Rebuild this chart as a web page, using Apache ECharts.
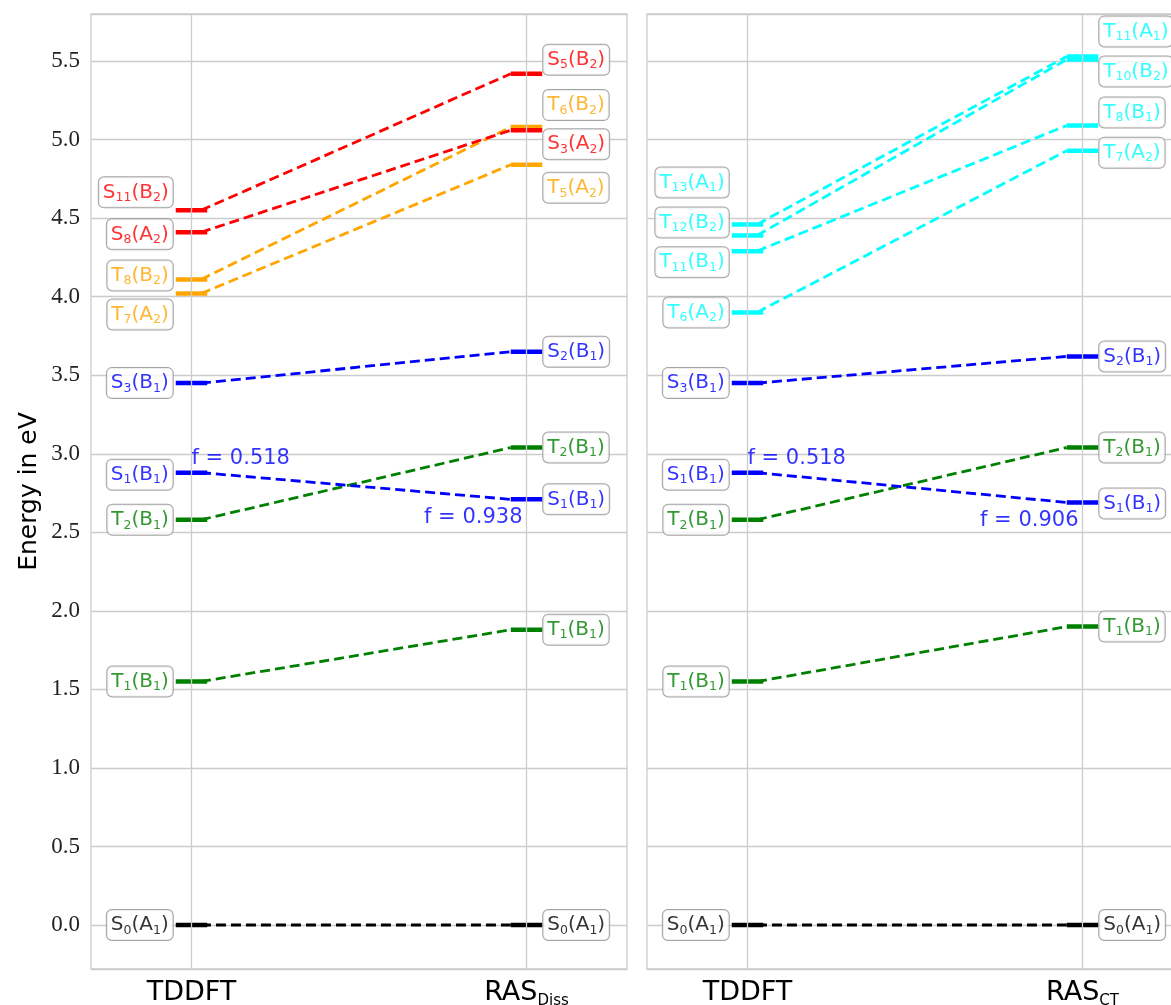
<!DOCTYPE html>
<html><head><meta charset="utf-8">
<script src="https://cdn.jsdelivr.net/npm/echarts@6/dist/echarts.min.js"></script>
<style>html,body{margin:0;padding:0;background:#fff;overflow:hidden}#c{width:1171px;height:1005px}</style>
</head><body><div id="c"></div>
<script>
// ---------------- DATA ----------------
const methodsLeft = ['TDDFT', 'RAS_Diss'];
const methodsRight = ['TDDFT', 'RAS_CT'];

// Left panel (TDDFT -> RAS_Diss)
const leftGroup       = ['ground', 'tripletB1', 'tripletB1', 'singletB1', 'singletB1', 'tripletHigh', 'tripletHigh', 'singletHigh', 'singletHigh'];
const leftTddftState  = ['S0(A1)', 'T1(B1)', 'T2(B1)', 'S1(B1)', 'S3(B1)', 'T7(A2)', 'T8(B2)', 'S8(A2)', 'S11(B2)'];
const leftTddftEnergy = [0.00, 1.55, 2.58, 2.88, 3.45, 4.02, 4.11, 4.41, 4.55];
const leftRasState    = ['S0(A1)', 'T1(B1)', 'T2(B1)', 'S1(B1)', 'S2(B1)', 'T5(A2)', 'T6(B2)', 'S3(A2)', 'S5(B2)'];
const leftRasEnergy   = [0.00, 1.88, 3.04, 2.71, 3.65, 4.84, 5.08, 5.06, 5.42];
const leftOscState    = 'S1(B1)';
const leftOscTddft    = '0.518';
const leftOscRas      = '0.938';

// Right panel (TDDFT -> RAS_CT)
const rightGroup       = ['ground', 'tripletB1', 'tripletB1', 'singletB1', 'singletB1', 'tripletCT', 'tripletCT', 'tripletCT', 'tripletCT'];
const rightTddftState  = ['S0(A1)', 'T1(B1)', 'T2(B1)', 'S1(B1)', 'S3(B1)', 'T6(A2)', 'T11(B1)', 'T12(B2)', 'T13(A1)'];
const rightTddftEnergy = [0.00, 1.55, 2.58, 2.88, 3.45, 3.90, 4.29, 4.39, 4.46];
const rightRasState    = ['S0(A1)', 'T1(B1)', 'T2(B1)', 'S1(B1)', 'S2(B1)', 'T7(A2)', 'T8(B1)', 'T10(B2)', 'T11(A1)'];
const rightRasEnergy   = [0.00, 1.90, 3.04, 2.69, 3.62, 4.93, 5.09, 5.51, 5.53];
const rightOscState    = 'S1(B1)';
const rightOscTddft    = '0.518';
const rightOscRas      = '0.906';

const yAxisName = 'Energy in eV';

// ---------------- STYLE / LAYOUT ----------------
const groupColor = {
  ground: '#000000', tripletB1: '#008000', singletB1: '#0000ff',
  tripletHigh: '#ffa500', singletHigh: '#ff0000', tripletCT: '#00ffff'
};
// label vertical nudges in pixels (to avoid overlapping boxes)
const nudgeLeftTddft  = {'S1(B1)': 2, 'T7(A2)': 21, 'T8(B2)': -4, 'S8(A2)': 2, 'S11(B2)': -18};
const nudgeLeftRas    = {'S5(B2)': -14, 'T6(B2)': -22, 'S3(A2)': 14, 'T5(A2)': 23};
const nudgeRightTddft = {'S1(B1)': 2, 'T13(A1)': -42, 'T12(B2)': -13, 'T11(B1)': 11};
const nudgeRightRas   = {'T11(A1)': -25, 'T10(B2)': 12, 'T8(B1)': -13, 'T7(A2)': 2, 'S1(B1)': 1};
const HW = 0.047; // half width of level bar in axis units
const SANS = 'DejaVu Sans';

function richName(name) {
  const m = name.match(/^([A-Z])(\d+)\(([A-Z])(\d+)\)$/);
  return `{m|${m[1]}}{s|${m[2]}}{m|(${m[3]}}{s|${m[4]}}{m|)}`;
}
function makeRich(color) {
  return {
    m: {color: color, fontFamily: SANS, fontSize: 20, lineHeight: 24},
    s: {color: color, fontFamily: SANS, fontSize: 12.5, lineHeight: 15, verticalAlign: 'bottom'}
  };
}
function stateLabel(name, color, side, nudge) {
  return {
    show: true,
    position: side,
    distance: side === 'left' ? 3 : 1,
    offset: [0, nudge || 0],
    formatter: richName(name),
    rich: makeRich(color),
    backgroundColor: '#ffffff',
    borderColor: '#8c8c8c',
    borderWidth: 1,
    borderRadius: 5,
    padding: [3, 4, 3, 4]
  };
}

function buildPanel(gi, group, tState, tE, rState, rE, nT, nR, oscState, oscT, oscR) {
  const series = [];
  // vertical grid lines at the two methods
  series.push({
    type: 'line', xAxisIndex: gi, yAxisIndex: gi, z: 0, silent: true, symbol: 'none',
    data: [[0, 0], [1, 0]], lineStyle: {opacity: 0},
    markLine: {
      silent: true, symbol: ['none', 'none'], label: {show: false},
      lineStyle: {color: '#cccccc', width: 1.3, type: 'solid'},
      data: [{xAxis: 0}, {xAxis: 1}], animation: false
    }
  });
  const labelData = [];
  for (let i = 0; i < tE.length; i++) {
    const c = groupColor[group[i]];
    series.push({
      type: 'line', xAxisIndex: gi, yAxisIndex: gi, z: 2, symbol: 'none', silent: true,
      data: [[HW * 0.6, tE[i]], [1 - HW, rE[i]]],
      lineStyle: {color: c, width: 2.8, type: [10, 5]}
    });
    series.push({
      type: 'line', xAxisIndex: gi, yAxisIndex: gi, z: 3, symbol: 'none', silent: true,
      data: [[-HW, tE[i]], [HW, tE[i]]],
      lineStyle: {color: c, width: 4.5, cap: 'butt'}
    });
    series.push({
      type: 'line', xAxisIndex: gi, yAxisIndex: gi, z: 3, symbol: 'none', silent: true,
      data: [[1 - HW, rE[i]], [1 + HW, rE[i]]],
      lineStyle: {color: c, width: 4.5, cap: 'butt'}
    });
    labelData.push({value: [-HW, tE[i]], label: stateLabel(tState[i], c, 'left', nT[tState[i]])});
    labelData.push({value: [1 + HW, rE[i]], label: stateLabel(rState[i], c, 'right', nR[rState[i]])});
    if (tState[i] === oscState) {
      labelData.push({value: [0, tE[i]], label: {
        show: true, position: 'right', distance: 0, offset: [0, -14],
        formatter: 'f = ' + oscT, color: c, fontFamily: SANS, fontSize: 21
      }});
      labelData.push({value: [1, rE[i]], label: {
        show: true, position: 'left', distance: 4, offset: [0, 18],
        formatter: 'f = ' + oscR, color: c, fontFamily: SANS, fontSize: 21
      }});
    }
  }
  series.push({
    type: 'scatter', xAxisIndex: gi, yAxisIndex: gi, z: 5, silent: true,
    symbolSize: 0, data: labelData
  });
  return series;
}

function methodRich(name) {
  const p = name.split('_');
  return p.length > 1 ? `{m|${p[0]}}{s|${p[1]}}` : `{m|${p[0]}}`;
}
function xAxisFor(gi, methods) {
  return {
    gridIndex: gi, type: 'value', min: -0.3, max: 1.3, interval: 0.1,
    axisLine: {show: false}, axisTick: {show: false}, splitLine: {show: false},
    axisLabel: {
      margin: 8,
      formatter: v => Math.abs(v) < 1e-6 ? methodRich(methods[0]) : (Math.abs(v - 1) < 1e-6 ? methodRich(methods[1]) : ''),
      rich: {
        m: {color: '#000', fontFamily: SANS, fontSize: 27, lineHeight: 32},
        s: {color: '#000', fontFamily: SANS, fontSize: 15, lineHeight: 30, verticalAlign: 'bottom'}
      }
    }
  };
}
function yAxisFor(gi, showLabels) {
  return {
    gridIndex: gi, type: 'value', min: -0.28, max: 5.80, splitNumber: 12,
    name: showLabels ? yAxisName : '', nameLocation: 'middle', nameGap: 49,
    nameTextStyle: {fontFamily: SANS, fontSize: 25, color: '#000'},
    axisLine: {show: false}, axisTick: {show: false},
    splitLine: {lineStyle: {color: '#cccccc', width: 1.3}},
    axisLabel: {
      show: showLabels, margin: 11, color: '#222',
      fontFamily: 'Liberation Serif', fontSize: 23,
      formatter: v => Math.abs(v * 2 - Math.round(v * 2)) < 1e-6 ? v.toFixed(1) : ''
    }
  };
}

const option = {
  animation: false,
  backgroundColor: '#ffffff',
  grid: [
    {left: 91, top: 14, width: 536, height: 955, show: true, borderColor: '#cccccc', borderWidth: 1.3,
     containLabel: false, outerBoundsMode: 'none'},
    {left: 647, top: 14, width: 536, height: 955, show: true, borderColor: '#cccccc', borderWidth: 1.3,
     containLabel: false, outerBoundsMode: 'none'}
  ],
  xAxis: [xAxisFor(0, methodsLeft), xAxisFor(1, methodsRight)],
  yAxis: [yAxisFor(0, true), yAxisFor(1, false)],
  series: [].concat(
    buildPanel(0, leftGroup, leftTddftState, leftTddftEnergy, leftRasState, leftRasEnergy,
      nudgeLeftTddft, nudgeLeftRas, leftOscState, leftOscTddft, leftOscRas),
    buildPanel(1, rightGroup, rightTddftState, rightTddftEnergy, rightRasState, rightRasEnergy,
      nudgeRightTddft, nudgeRightRas, rightOscState, rightOscTddft, rightOscRas)
  )
};
const chart = echarts.init(document.getElementById('c'), null, {renderer: 'canvas'});
chart.setOption(option);
</script>
</body></html>
